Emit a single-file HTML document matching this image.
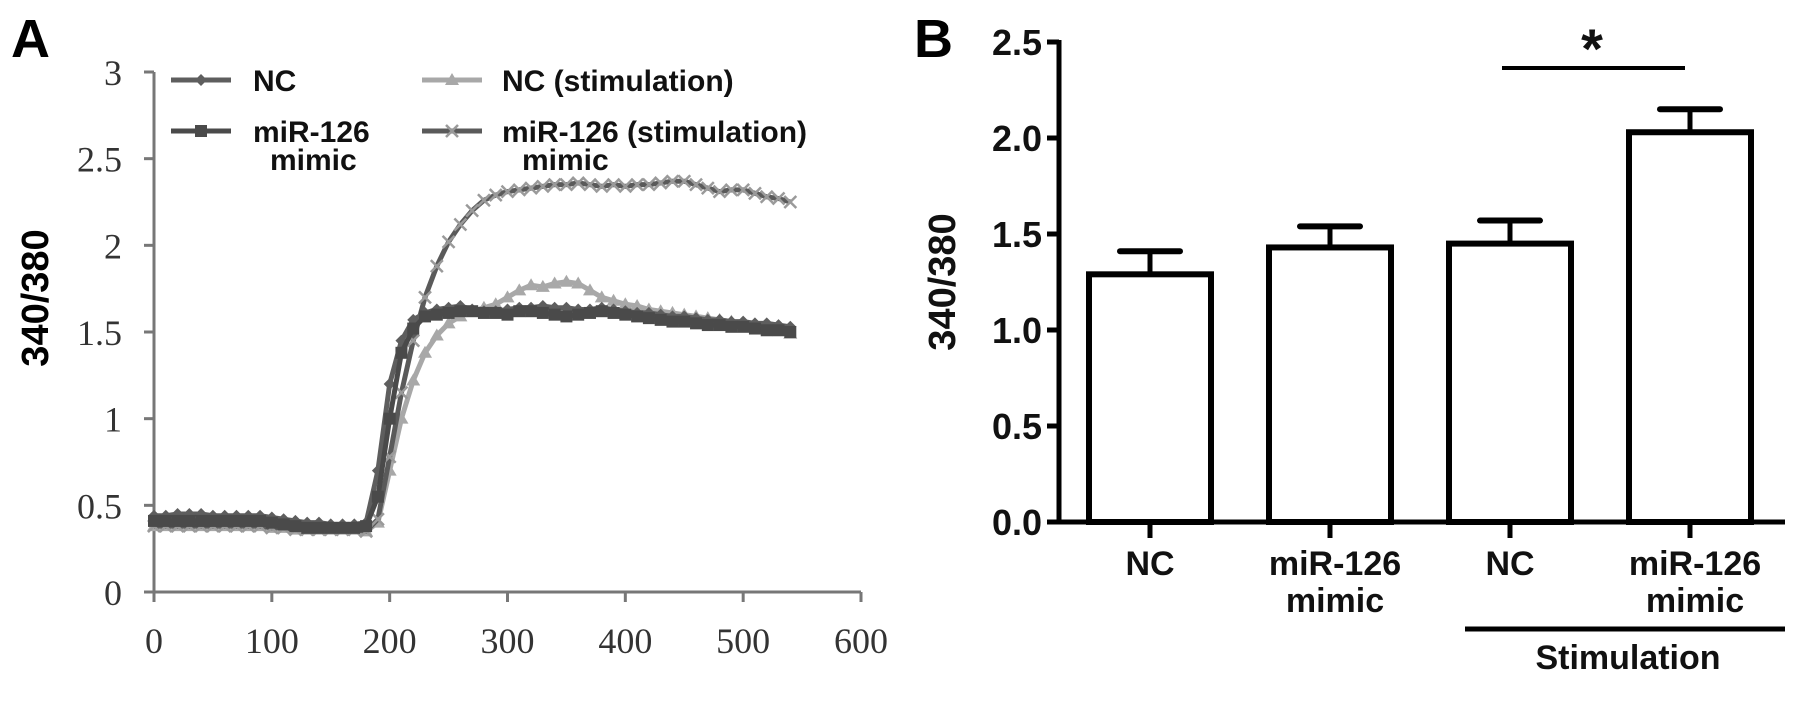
<!DOCTYPE html>
<html><head><meta charset="utf-8"><style>
html,body{margin:0;padding:0;background:#fff;}
svg{display:block;}
</style></head><body>
<svg id="chart" width="1795" height="709" viewBox="0 0 1795 709" xmlns="http://www.w3.org/2000/svg">
<g id="pa"></g>
<g id="pb"></g>
</svg>
<script>
// Panel A data (time in s, ratio 340/380)
const timesA = [0,10,20,30,40,50,60,70,80,90,100,110,120,130,140,150,160,170,180,190,200,210,220,230,240,250,260,270,280,290,300,310,320,330,340,350,360,370,380,390,400,410,420,430,440,450,460,470,480,490,500,510,520,530,540];
const ncVals = [0.44,0.44,0.45,0.45,0.45,0.44,0.44,0.44,0.44,0.44,0.43,0.42,0.41,0.40,0.40,0.39,0.39,0.39,0.40,0.70,1.20,1.45,1.57,1.61,1.63,1.64,1.65,1.63,1.62,1.62,1.63,1.64,1.64,1.65,1.64,1.64,1.63,1.63,1.64,1.63,1.62,1.61,1.61,1.60,1.59,1.59,1.58,1.57,1.57,1.56,1.56,1.55,1.55,1.54,1.53];
const mimicVals = [0.41,0.41,0.41,0.41,0.41,0.41,0.41,0.41,0.41,0.41,0.40,0.39,0.38,0.37,0.37,0.37,0.37,0.37,0.38,0.55,1.00,1.38,1.52,1.59,1.60,1.61,1.62,1.62,1.61,1.61,1.60,1.62,1.62,1.61,1.60,1.59,1.60,1.61,1.62,1.61,1.60,1.59,1.58,1.57,1.56,1.56,1.55,1.54,1.54,1.53,1.53,1.52,1.51,1.51,1.50];
const ncStimVals = [0.38,0.38,0.38,0.38,0.38,0.38,0.38,0.38,0.38,0.38,0.37,0.37,0.36,0.36,0.36,0.36,0.36,0.36,0.35,0.40,0.70,1.00,1.22,1.38,1.48,1.55,1.59,1.62,1.64,1.66,1.70,1.74,1.77,1.76,1.78,1.79,1.78,1.74,1.70,1.68,1.66,1.65,1.63,1.62,1.61,1.60,1.59,1.58,1.57,1.56,1.55,1.54,1.52,1.51,1.49];
const mirStimVals = [0.38,0.38,0.38,0.38,0.38,0.38,0.38,0.38,0.38,0.38,0.37,0.37,0.36,0.36,0.36,0.36,0.36,0.36,0.35,0.42,0.78,1.15,1.45,1.70,1.88,2.02,2.12,2.20,2.26,2.29,2.31,2.32,2.33,2.34,2.35,2.35,2.36,2.35,2.34,2.35,2.34,2.35,2.35,2.36,2.37,2.37,2.35,2.33,2.31,2.32,2.32,2.30,2.28,2.27,2.25];
const xTicksA = [0,100,200,300,400,500,600];
const yTicksA = [0,0.5,1,1.5,2,2.5,3];
// Panel B data
const categoriesB = ["NC","miR-126|mimic","NC","miR-126|mimic"];
const meansB = [1.29,1.43,1.45,2.03];
const errorsB = [0.12,0.11,0.12,0.12];
const yTicksB = ["0.0","0.5","1.0","1.5","2.0","2.5"];

const NS="http://www.w3.org/2000/svg";
function mk(parent,tag,attrs,text){const e=document.createElementNS(NS,tag);for(const k in attrs)e.setAttribute(k,attrs[k]);if(text!==undefined)e.textContent=text;parent.appendChild(e);return e;}
const pa=document.getElementById('pa'), pb=document.getElementById('pb');

// ---------- Panel A ----------
const ax0=154, ax1=861, ay0=592, ay1=72;
const xA=v=>ax0+(v-0)/600*(ax1-ax0);
const yA=v=>ay0-(v/3)*(ay0-ay1);
let t=mk(pa,'text',{x:11,y:57,'font-family':'Liberation Sans, sans-serif','font-weight':'bold','font-size':54,fill:'#000'},'A');


let ln=mk(pa,'line',{x1:ax0,y1:ay1,x2:ax0,y2:ay0,stroke:'#777','stroke-width':3});


ln=mk(pa,'line',{x1:ax0,y1:ay0,x2:ax1,y2:ay0,stroke:'#777','stroke-width':3});


yTicksA.forEach(v=>{
  const y=yA(v);
  const tk=mk(pa,'line',{x1:ax0-10,y1:y,x2:ax0,y2:y,stroke:'#777','stroke-width':3});
  
  
  const lb=mk(pa,'text',{x:122,y:y+13,'text-anchor':'end','font-family':'Liberation Serif, serif','font-size':36,fill:'#333'},String(v));
  
  
});
xTicksA.forEach(v=>{
  const x=xA(v);
  const tk=mk(pa,'line',{x1:x,y1:ay0,x2:x,y2:ay0+10,stroke:'#777','stroke-width':3});
  
  
  const lb=mk(pa,'text',{x:x,y:653,'text-anchor':'middle','font-family':'Liberation Serif, serif','font-size':36,fill:'#333'},String(v));
  
  
});
t=mk(pa,'text',{x:0,y:0,transform:'translate(48,298) rotate(-90)','text-anchor':'middle','font-family':'Liberation Sans, sans-serif','font-weight':'bold','font-size':38,fill:'#000'},'340/380');



function marker(g,type,x,y,color){
  let m;
  if(type==='diamond') m=mk(g,'polygon',{points:`${x},${y-6} ${x+6},${y} ${x},${y+6} ${x-6},${y}`,fill:color});
  else if(type==='square') m=mk(g,'rect',{x:x-6,y:y-6,width:12,height:12,fill:color});
  else if(type==='triangle') m=mk(g,'polygon',{points:`${x},${y-7} ${x+7},${y+5} ${x-7},${y+5}`,fill:color});
  else m=mk(g,'path',{d:`M${x-6},${y-6}L${x+6},${y+6}M${x-6},${y+6}L${x+6},${y-6}`,stroke:color,'stroke-width':2.5,fill:'none'});
  return m;
}
const seriesA=[
 {vals:ncStimVals,color:'#a8a8a8',mcolor:'#a8a8a8',type:'triangle',name:'series-nc-stimulation'},
 {vals:mirStimVals,color:'#5a5a5a',mcolor:'#9a9a9a',type:'x',name:'series-mir126-stimulation'},
 {vals:ncVals,color:'#5e5e5e',mcolor:'#5e5e5e',type:'diamond',name:'series-nc'},
 {vals:mimicVals,color:'#4a4a4a',mcolor:'#4a4a4a',type:'square',name:'series-mir126-mimic'}
];
seriesA.forEach(s=>{
  const g=mk(pa,'g',{});
  
  
  const pts=timesA.map((tt,i)=>xA(tt)+','+yA(s.vals[i])).join(' ');
  const pl=mk(g,'polyline',{points:pts,fill:'none',stroke:s.color,'stroke-width':5});
  
  
  timesA.forEach((tt,i)=>{
    const m=marker(g,s.type,xA(tt),yA(s.vals[i]),s.mcolor);
    
    
  });
});
// legend
const legend=[
 {x:171,y:80,type:'diamond',color:'#5e5e5e',mcolor:'#5e5e5e',l1:'NC',l2:null,tx:253},
 {x:171,y:131,type:'square',color:'#4a4a4a',mcolor:'#4a4a4a',l1:'miR-126',l2:'mimic',tx:253,mx:270},
 {x:422,y:80,type:'triangle',color:'#a8a8a8',mcolor:'#a8a8a8',l1:'NC (stimulation)',l2:null,tx:502},
 {x:422,y:131,type:'x',color:'#5a5a5a',mcolor:'#9a9a9a',l1:'miR-126 (stimulation)',l2:'mimic',tx:502,mx:522}
];
legend.forEach(e=>{
  const g=mk(pa,'g',{});
  
  
  mk(g,'line',{x1:e.x,y1:e.y,x2:e.x+60,y2:e.y,stroke:e.color,'stroke-width':5});
  marker(g,e.type,e.x+30,e.y,e.mcolor);
  mk(g,'text',{x:e.tx,y:e.y+11,'font-family':'Liberation Sans, sans-serif','font-weight':'bold','font-size':30,fill:'#111'},e.l1);
  if(e.l2) mk(g,'text',{x:e.mx,y:e.y+39,'font-family':'Liberation Sans, sans-serif','font-weight':'bold','font-size':30,fill:'#111'},e.l2);
});

// ---------- Panel B ----------
const bx0=1059, bx1=1785, by0=522, by1=42;
const yB=v=>by0-(v/2.5)*(by0-by1);
const xB=i=>1150+i*180;
t=mk(pb,'text',{x:914,y:57,'font-family':'Liberation Sans, sans-serif','font-weight':'bold','font-size':54,fill:'#000'},'B');


ln=mk(pb,'line',{x1:bx0,y1:by1-2,x2:bx0,y2:by0+2,stroke:'#000','stroke-width':5});


ln=mk(pb,'line',{x1:bx0,y1:by0,x2:bx1,y2:by0,stroke:'#000','stroke-width':5});


yTicksB.forEach(s=>{
  const y=yB(parseFloat(s));
  const tk=mk(pb,'line',{x1:bx0-12,y1:y,x2:bx0,y2:y,stroke:'#000','stroke-width':5});
  
  
  const lb=mk(pb,'text',{x:1042,y:y+13,'text-anchor':'end','font-family':'Liberation Sans, sans-serif','font-weight':'bold','font-size':36,fill:'#111'},s);
  
  
});
t=mk(pb,'text',{x:0,y:0,transform:'translate(955,282) rotate(-90)','text-anchor':'middle','font-family':'Liberation Sans, sans-serif','font-weight':'bold','font-size':38,fill:'#111'},'340/380');


meansB.forEach((m,i)=>{
  const cx=xB(i), w=122;
  const top=yB(m), etop=yB(m+errorsB[i]);
  const eb=mk(pb,'line',{x1:cx,y1:top,x2:cx,y2:etop,stroke:'#000','stroke-width':5});
  
  
  const cap=mk(pb,'line',{x1:cx-30,y1:etop,x2:cx+30,y2:etop,stroke:'#000','stroke-width':6,'stroke-linecap':'round'});
  
  
  const r=mk(pb,'rect',{x:cx-w/2,y:top,width:w,height:by0-top,fill:'#fff',stroke:'#000','stroke-width':6});
  
  
  const tk=mk(pb,'line',{x1:cx,y1:by0,x2:cx,y2:by0+16,stroke:'#000','stroke-width':5});
  
  
  const parts=categoriesB[i].split('|');
  parts.forEach((p,j)=>{
    const lb=mk(pb,'text',{x:cx+(parts.length>1?5:0),y:575+j*37,'text-anchor':'middle','font-family':'Liberation Sans, sans-serif','font-weight':'bold','font-size':34,fill:'#111'},p);
    
    
  });
});
ln=mk(pb,'line',{x1:1465,y1:629,x2:1785,y2:629,stroke:'#000','stroke-width':5});


t=mk(pb,'text',{x:1628,y:669,'text-anchor':'middle','font-family':'Liberation Sans, sans-serif','font-weight':'bold','font-size':34,fill:'#111'},'Stimulation');


ln=mk(pb,'line',{x1:1502,y1:68,x2:1685,y2:68,stroke:'#000','stroke-width':4});


t=mk(pb,'text',{x:1592,y:68,'text-anchor':'middle','font-family':'Liberation Sans, sans-serif','font-weight':'bold','font-size':56,fill:'#111'},'*');


</script>
</body></html>
